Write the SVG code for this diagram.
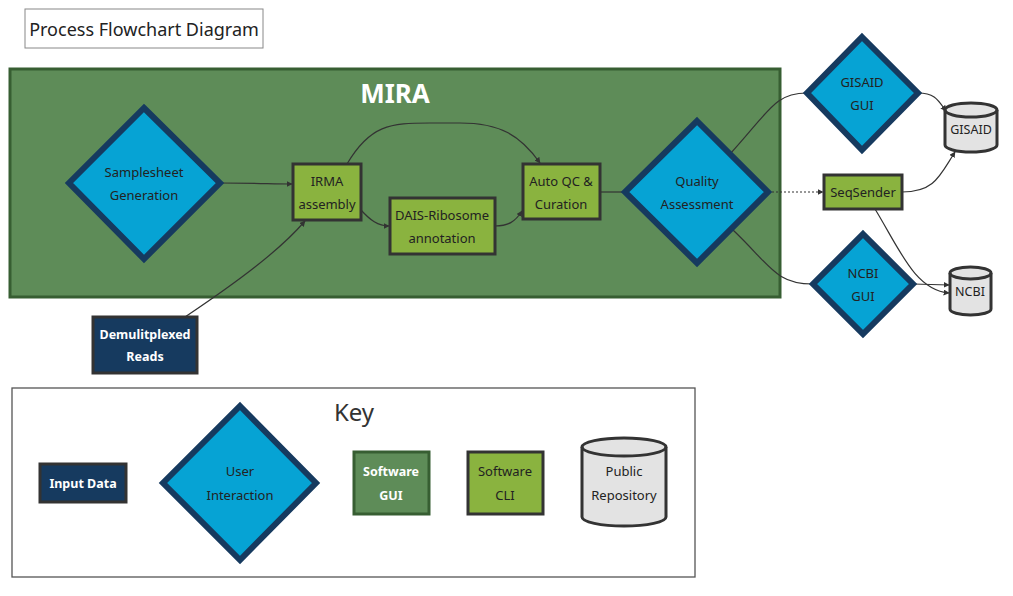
<svg xmlns="http://www.w3.org/2000/svg" width="1013" height="596" viewBox="0 0 1013 596">
<style>
text{font-family:"Noto Sans","DejaVu Sans",sans-serif;font-size:13px;text-anchor:middle;dominant-baseline:central;fill:#222}
.dia{fill:#06a3d4;stroke:#163a5f;stroke-width:6}
.cli{fill:#8ab33f;stroke:#333;stroke-width:3}
.gui{fill:#5e8c58;stroke:#375e32;stroke-width:3}
.inp{fill:#163a5f;stroke:#333;stroke-width:3}
.cyl{fill:#e3e3e3;stroke:#333;stroke-width:3}
.w{fill:#fff;font-weight:bold;font-size:12.5px}
.c{fill:none;stroke:#333;stroke-width:1.2}
</style>
<defs>
<marker id="ah" viewBox="0 0 10 10" refX="9" refY="5" markerWidth="5" markerHeight="5" orient="auto"><path d="M0,0L10,5L0,10z" fill="#333"/></marker>
</defs>
<rect width="1013" height="596" fill="#fff"/>
<g id="title"><rect x="25" y="9" width="238" height="39" fill="#fff" stroke="#888" stroke-width="1"/><text x="144" y="29" style="font-size:18px">Process Flowchart Diagram</text></g>
<g id="mira"><rect x="10" y="69" width="770" height="228" class="gui"/><text x="395" y="93" class="w" style="font-size:26px">MIRA</text></g>
<g id="connectors">
<path class="c" d="M220,183 C260,183 270,184 292,184" marker-end="url(#ah)"/>
<path class="c" d="M185,317 C240,280 280,250 305,221" marker-end="url(#ah)"/>
<path class="c" d="M347,164 C370,125 390,123 430,123 L460,123 C500,123 520,135 540,163" marker-end="url(#ah)"/>
<path class="c" d="M361,210 C370,220 378,226 389,226" marker-end="url(#ah)"/>
<path class="c" d="M495,226 C508,226 515,222 522,211" marker-end="url(#ah)"/>
<path class="c" d="M600,192 L625,192"/>
<path class="c" d="M730,154 C770,110 775,93 807,93"/>
<path class="c" d="M768,192 L823,192" stroke-dasharray="2,2" marker-end="url(#ah)"/>
<path class="c" d="M733,230 C770,265 775,284 813,284"/>
<path class="c" d="M918,93 C935,93 938,100 946,111" marker-end="url(#ah)"/>
<path class="c" d="M902,192 C935,192 940,175 955,152" marker-end="url(#ah)"/>
<path class="c" d="M875,209 C900,250 915,290 949,293" marker-end="url(#ah)"/>
<path class="c" d="M913,284 L949,285" marker-end="url(#ah)"/>
</g>
<g id="samplesheet"><polygon class="dia" points="144,108 220,183 144,259 69,183"/><text x="144" y="172">Samplesheet</text><text x="144" y="195">Generation</text></g>
<g id="irma"><rect class="cli" x="293" y="164" width="68" height="56"/><text x="327" y="181">IRMA</text><text x="327" y="204">assembly</text></g>
<g id="dais"><rect class="cli" x="390" y="198" width="105" height="56"/><text x="442" y="215">DAIS-Ribosome</text><text x="442" y="238">annotation</text></g>
<g id="autoqc"><rect class="cli" x="523" y="164" width="77" height="55"/><text x="561" y="181">Auto QC &amp;</text><text x="561" y="204">Curation</text></g>
<g id="quality"><polygon class="dia" points="697,121 768,192 697,263 625,192"/><text x="697" y="181">Quality</text><text x="697" y="204">Assessment</text></g>
<g id="gisaidgui"><polygon class="dia" points="862,37 918,93 862,150 807,93"/><text x="862" y="82">GISAID</text><text x="862" y="105">GUI</text></g>
<g id="ncbigui"><polygon class="dia" points="863,234 913,284 863,334 813,284"/><text x="863" y="273">NCBI</text><text x="863" y="296">GUI</text></g>
<g id="seqsender"><rect class="cli" x="824" y="175" width="78" height="34"/><text x="863" y="192">SeqSender</text></g>
<g id="gisaid"><path class="cyl" d="M945,110 A26,7 0 0 1 997,110 L997,145 A26,7 0 0 1 945,145 Z"/><path d="M945,110 A26,7 0 0 0 997,110" fill="none" stroke="#333" stroke-width="3"/><text x="971" y="129" style="font-size:12.5px">GISAID</text></g>
<g id="ncbi"><path class="cyl" d="M950,273 A20.5,6 0 0 1 991,273 L991,309 A20.5,6 0 0 1 950,309 Z"/><path d="M950,273 A20.5,6 0 0 0 991,273" fill="none" stroke="#333" stroke-width="3"/><text x="970" y="291" style="font-size:12.5px">NCBI</text></g>
<g id="demux"><rect class="inp" x="93" y="317" width="104" height="56"/><text x="145" y="334" class="w">Demulitplexed</text><text x="145" y="356" class="w">Reads</text></g>
<g id="key"><rect x="12" y="388" width="683" height="189" fill="#fff" stroke="#555" stroke-width="1.3"/><text x="354" y="411" style="font-size:24px;fill:#333">Key</text></g>
<g id="key-input"><rect class="inp" x="40" y="464" width="86" height="38"/><text x="83" y="483" class="w">Input Data</text></g>
<g id="key-user"><polygon class="dia" points="240,406 316,483 240,560 163,483"/><text x="240" y="471">User</text><text x="240" y="495">Interaction</text></g>
<g id="key-gui"><rect class="gui" x="354" y="452" width="75" height="62"/><text x="391" y="471" class="w">Software</text><text x="391" y="495" class="w">GUI</text></g>
<g id="key-cli"><rect class="cli" x="468" y="452" width="75" height="62"/><text x="505" y="471">Software</text><text x="505" y="495">CLI</text></g>
<g id="key-repo"><path class="cyl" d="M582,447 A42,9 0 0 1 666,447 L666,517 A42,9 0 0 1 582,517 Z"/><path d="M582,447 A42,9 0 0 0 666,447" fill="none" stroke="#333" stroke-width="3"/><text x="624" y="471">Public</text><text x="624" y="495">Repository</text></g>
</svg>
